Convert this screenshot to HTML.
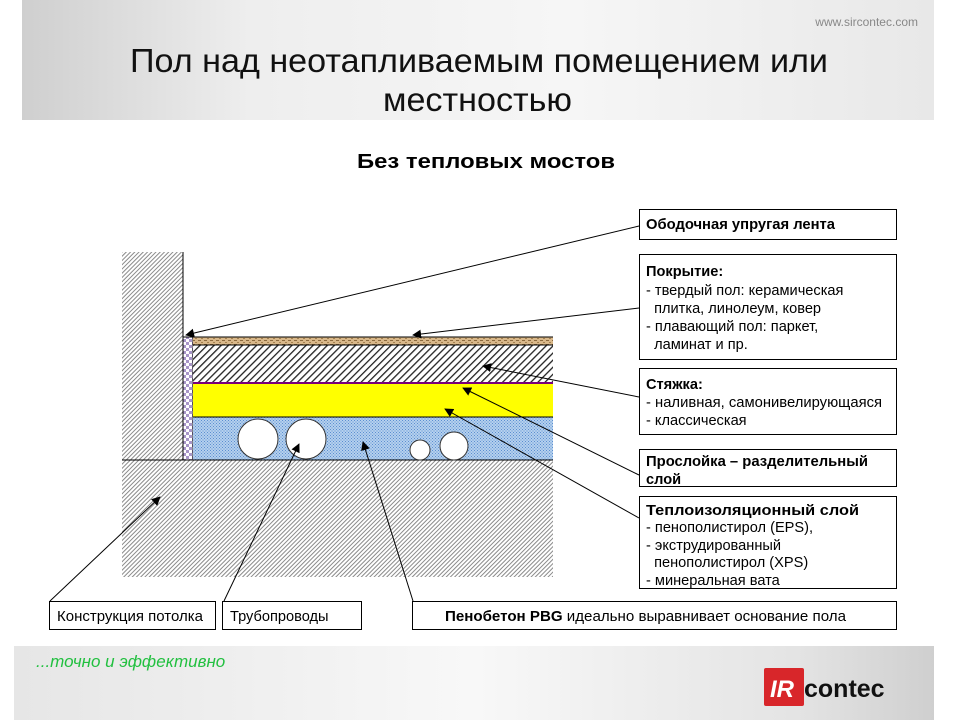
<!DOCTYPE html>
<html><head><meta charset="utf-8"><style>
html,body{margin:0;padding:0;background:#fff;}
svg text{font-family:"Liberation Sans",sans-serif;}
</style></head><body>
<svg width="960" height="720" viewBox="0 0 960 720" xmlns="http://www.w3.org/2000/svg">
<defs>
<linearGradient id="hdr" x1="0" y1="0" x2="1" y2="0">
<stop offset="0" stop-color="#cfcfcf"/><stop offset="0.25" stop-color="#eeeeee"/><stop offset="0.6" stop-color="#f6f6f6"/><stop offset="1" stop-color="#e8e8e8"/></linearGradient>
<linearGradient id="ftr" x1="0" y1="0" x2="1" y2="0">
<stop offset="0" stop-color="#e6e6e6"/><stop offset="0.5" stop-color="#f8f8f8"/><stop offset="0.85" stop-color="#e4e4e4"/><stop offset="1" stop-color="#cfcfcf"/></linearGradient>
<pattern id="hatch" width="3" height="3" patternUnits="userSpaceOnUse" patternTransform="rotate(45)">
<rect width="3" height="3" fill="#fff"/><rect width="1" height="3" fill="#8a8a8a"/></pattern>
<pattern id="hatch2" width="5" height="5" patternUnits="userSpaceOnUse" patternTransform="rotate(45)">
<rect width="5" height="5" fill="#fff"/><rect width="1.3" height="5" fill="#222"/></pattern>
<pattern id="blue" width="3" height="3" patternUnits="userSpaceOnUse">
<rect width="3" height="3" fill="#b5d0ee"/><rect width="1" height="1" fill="#5b8fd0"/><rect x="1.5" y="1.5" width="1" height="1" fill="#5b8fd0"/></pattern>
<pattern id="check" width="6" height="6" patternUnits="userSpaceOnUse">
<rect width="6" height="6" fill="#fff"/><rect width="3" height="3" fill="#a895c8"/><rect x="3" y="3" width="3" height="3" fill="#a895c8"/></pattern>
<pattern id="wood" width="6" height="4" patternUnits="userSpaceOnUse">
<rect width="6" height="4" fill="#d9b88a"/><rect width="3" height="1" fill="#8c6a3e"/><rect x="3" y="2" width="2" height="1" fill="#a4804f"/></pattern>
<marker id="ar" viewBox="0 0 10 10" refX="9" refY="5" markerWidth="9" markerHeight="9" orient="auto-start-reverse" markerUnits="userSpaceOnUse">
<path d="M0,0 L10,5 L0,10 z" fill="#000"/></marker>
</defs>

<rect x="22" y="0" width="912" height="120" fill="url(#hdr)"/>
<text x="918" y="26" font-size="12" fill="#888" text-anchor="end">www.sircontec.com</text>
<text x="130" y="72" font-size="33" fill="#111" textLength="698" lengthAdjust="spacingAndGlyphs" style="font-family:'Liberation Sans Narrow','Liberation Sans',sans-serif">Пол над неотапливаемым помещением или</text>
<text x="383" y="111" font-size="33" fill="#111" textLength="189" lengthAdjust="spacingAndGlyphs" style="font-family:'Liberation Sans Narrow','Liberation Sans',sans-serif">местностью</text>
<text x="357" y="168" font-size="20" font-weight="bold" textLength="258" lengthAdjust="spacingAndGlyphs">Без тепловых мостов</text>

<!-- drawing -->
<rect x="122" y="252" width="61" height="208" fill="url(#hatch)"/>
<rect x="122" y="460" width="431" height="117" fill="url(#hatch)"/>
<rect x="183" y="337" width="10" height="123" fill="url(#check)" stroke="#000" stroke-width="1"/>
<rect x="193" y="337" width="360" height="8" fill="url(#wood)"/>
<rect x="193" y="345" width="360" height="38" fill="url(#hatch2)"/>
<rect x="193" y="383" width="360" height="34" fill="#ffff00"/>
<rect x="193" y="417" width="360" height="43" fill="url(#blue)"/>
<line x1="193" y1="337" x2="553" y2="337" stroke="#000"/>
<line x1="193" y1="345" x2="553" y2="345" stroke="#000"/>
<line x1="193" y1="383" x2="553" y2="383" stroke="#7a007a" stroke-width="2"/>
<line x1="193" y1="417" x2="553" y2="417" stroke="#000"/>
<line x1="183" y1="252" x2="183" y2="460" stroke="#000"/>
<line x1="122" y1="460" x2="553" y2="460" stroke="#000"/>
<g fill="#fff" stroke="#333">
<circle cx="258" cy="439" r="20"/><circle cx="306" cy="439" r="20"/>
<circle cx="420" cy="450" r="10"/><circle cx="454" cy="446" r="14"/></g>

<!-- connectors -->
<g stroke="#000" stroke-width="1" fill="none" marker-end="url(#ar)">
<line x1="639" y1="226" x2="186" y2="335"/>
<line x1="639" y1="308" x2="413" y2="335"/>
<line x1="639" y1="397" x2="483" y2="366"/>
<line x1="639" y1="475" x2="463" y2="388"/>
<line x1="639" y1="518" x2="445" y2="409"/>
<line x1="50" y1="601" x2="160" y2="497"/>
<line x1="224" y1="601" x2="299" y2="444"/>
<line x1="413" y1="601" x2="363" y2="442"/>
</g>

<!-- boxes -->
<g fill="#fff" stroke="#000" stroke-width="1">
<rect x="639.5" y="209.5" width="257" height="30"/>
<rect x="639.5" y="254.5" width="257" height="105"/>
<rect x="639.5" y="368.5" width="257" height="66"/>
<rect x="639.5" y="449.5" width="257" height="37"/>
<rect x="639.5" y="496.5" width="257" height="92"/>
<rect x="49.5" y="601.5" width="166" height="28"/>
<rect x="222.5" y="601.5" width="139" height="28"/>
<rect x="412.5" y="601.5" width="484" height="28"/>
</g>
<g font-size="14.6" fill="#000">
<text x="646" y="229" font-weight="bold" textLength="189" lengthAdjust="spacingAndGlyphs">Ободочная упругая лента</text>
<text x="646" y="276" font-weight="bold">Покрытие:</text>
<text x="646" y="295">- твердый пол: керамическая</text>
<text x="646" y="313">&#160;&#160;плитка, линолеум, ковер</text>
<text x="646" y="331">- плавающий пол: паркет,</text>
<text x="646" y="349">&#160;&#160;ламинат и пр.</text>
<text x="646" y="389" font-weight="bold">Стяжка:</text>
<text x="646" y="407" textLength="236" lengthAdjust="spacingAndGlyphs">- наливная, самонивелирующаяся</text>
<text x="646" y="425">- классическая</text>
<text x="646" y="466" font-weight="bold" textLength="222" lengthAdjust="spacingAndGlyphs">Прослойка – разделительный</text>
<text x="646" y="484" font-weight="bold">слой</text>
<text x="646" y="515" font-weight="bold" textLength="213" lengthAdjust="spacingAndGlyphs">Теплоизоляционный слой</text>
<text x="646" y="532">- пенополистирол (EPS),</text>
<text x="646" y="550">- экструдированный</text>
<text x="646" y="567">&#160;&#160;пенополистирол (XPS)</text>
<text x="646" y="585">- минеральная вата</text>
<text x="57" y="621" textLength="146" lengthAdjust="spacingAndGlyphs">Конструкция потолка</text>
<text x="230" y="621">Трубопроводы</text>
<text x="445" y="621" textLength="401" lengthAdjust="spacingAndGlyphs"><tspan font-weight="bold">Пенобетон PBG</tspan> идеально выравнивает основание пола</text>
</g>

<!-- footer -->
<rect x="14" y="646" width="920" height="74" fill="url(#ftr)"/>
<text x="36" y="667" font-size="17" font-style="italic" fill="#22c040">...точно и эффективно</text>
<rect x="764" y="668" width="40" height="38" fill="#d8262a" rx="2"/>
<text x="770" y="697" font-size="24" font-weight="bold" font-style="italic" fill="#fff">IR</text>
<text x="804" y="697" font-size="25" font-weight="bold" fill="#111">contec</text>
</svg>
</body></html>
